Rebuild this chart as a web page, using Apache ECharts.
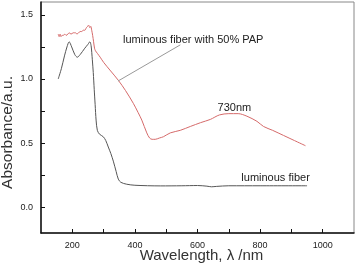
<!DOCTYPE html>
<html><head><meta charset="utf-8">
<script src="https://cdn.jsdelivr.net/npm/echarts@6/dist/echarts.min.js"></script>
<style>html,body{margin:0;padding:0;background:#fff}#c{width:357px;height:272px}</style>
</head><body><div id="c"></div>
<script>
const redWave = [155,158,161,164,167,171,176,180,186,190,196,203,210,215,220,225,230,235,240,245,249,252,256,259,262,265,268,271,274,280,289,300,320,347,370,395,410,422,438,447,455,465,478,491,513,545,577,610,641,670,700,730,758,790,811,840,875,910,945];
const redVal  = [1.35,1.33,1.35,1.33,1.34,1.34,1.35,1.34,1.35,1.36,1.35,1.36,1.36,1.35,1.36,1.37,1.37,1.38,1.38,1.40,1.41,1.42,1.40,1.41,1.38,1.34,1.29,1.24,1.22,1.20,1.17,1.13,1.07,0.99,0.91,0.81,0.74,0.68,0.58,0.54,0.53,0.53,0.54,0.55,0.58,0.60,0.63,0.66,0.685,0.72,0.73,0.73,0.71,0.67,0.63,0.60,0.56,0.52,0.48];
const blackWave = [155,165,175,183,190,198,208,216,225,240,250,256,260,264,267,270,273,276,280,287,299,307,315,323,331,340,347,355,374,400,481,550,600,630,645,660,700,800,950];
const blackVal  = [1.00,1.08,1.18,1.25,1.29,1.25,1.19,1.17,1.19,1.24,1.27,1.29,1.26,1.15,1.05,0.92,0.80,0.68,0.60,0.57,0.55,0.52,0.47,0.42,0.36,0.28,0.22,0.195,0.18,0.172,0.167,0.168,0.17,0.165,0.16,0.163,0.168,0.168,0.168];
const xLabelValues = [200,400,600,800,1000];
const xTickValues = [200,300,400,500,600,700,800,900,1000];
const yLabelValues = [0,0.5,1.0,1.5];
const yTickValues = [0,0.25,0.5,0.75,1.0,1.25,1.5];
const redLabel = 'luminous fiber with 50% PAP';
const peakLabel = '730nm';
const blackLabel = 'luminous fiber';
const leader = [[545,1.266],[346,0.984]];
const redLabelAt = [362,1.305];
const peakLabelAt = [718,0.773];
const blackLabelAt = [740,0.227];

const chart = echarts.init(document.getElementById('c'), null, {renderer:'canvas'});
const font = 'Liberation Sans, Arial, sans-serif';
function txt(coord, text, align){
  return {coord: coord, symbol:'circle', symbolSize:0,
    label:{show:true, position:'inside', formatter:text, align:align, verticalAlign:'middle',
      color:'#222', fontSize:11, fontFamily:font}};
}
chart.setOption({
  animation:false,
  grid:{left:41, top:2, right:3, bottom:39, show:true, borderColor:'#888', borderWidth:1,
    containLabel:false, outerBoundsMode:'none'},
  xAxis:{type:'value', min:100, max:1100,
    name:'Wavelength, λ /nm', nameLocation:'middle', nameGap:15, nameMoveOverlap:false,
    nameTextStyle:{fontSize:15, color:'#333', fontFamily:font, verticalAlign:'top', padding:[0,0,0,8]},
    axisLine:{show:true, onZero:false, lineStyle:{color:'#111', width:1.5}},
    axisTick:{show:true, inside:true, length:4, customValues:xTickValues, lineStyle:{color:'#111'}},
    axisLabel:{customValues:xLabelValues, fontSize:9, color:'#222', margin:8, fontFamily:font,
      formatter:v=>String(v)},
    splitLine:{show:false}},
  yAxis:{type:'value', min:-0.2, max:1.6,
    name:'Absorbance/a.u.', nameLocation:'middle', nameGap:25, nameMoveOverlap:false,
    nameTextStyle:{fontSize:15.5, color:'#333', fontFamily:font, padding:[0,30,0,0]},
    axisLine:{show:true, onZero:false, lineStyle:{color:'#111', width:1.5}},
    axisTick:{show:true, inside:true, length:4, customValues:yTickValues, lineStyle:{color:'#111'}},
    axisLabel:{customValues:yLabelValues, fontSize:9, color:'#222', margin:8, fontFamily:font,
      formatter:v=>v.toFixed(1)},
    splitLine:{show:false}},
  series:[
    {type:'line', data:redWave.map((w,i)=>[w,redVal[i]]), showSymbol:false, smooth:0.3,
      lineStyle:{color:'#d56a6a', width:1}, z:3,
      markLine:{silent:true, symbol:'none', label:{show:false},
        lineStyle:{color:'#999', width:1, type:'solid'},
        data:[[{coord:leader[0]},{coord:leader[1]}]]},
      markPoint:{silent:true, data:[txt(redLabelAt, redLabel, 'left'), txt(peakLabelAt, peakLabel, 'center')]}},
    {type:'line', data:blackWave.map((w,i)=>[w,blackVal[i]]), showSymbol:false, smooth:0.3,
      lineStyle:{color:'#555', width:1}, z:2,
      markPoint:{silent:true, data:[txt(blackLabelAt, blackLabel, 'left')]}}
  ]
});
</script></body></html>
